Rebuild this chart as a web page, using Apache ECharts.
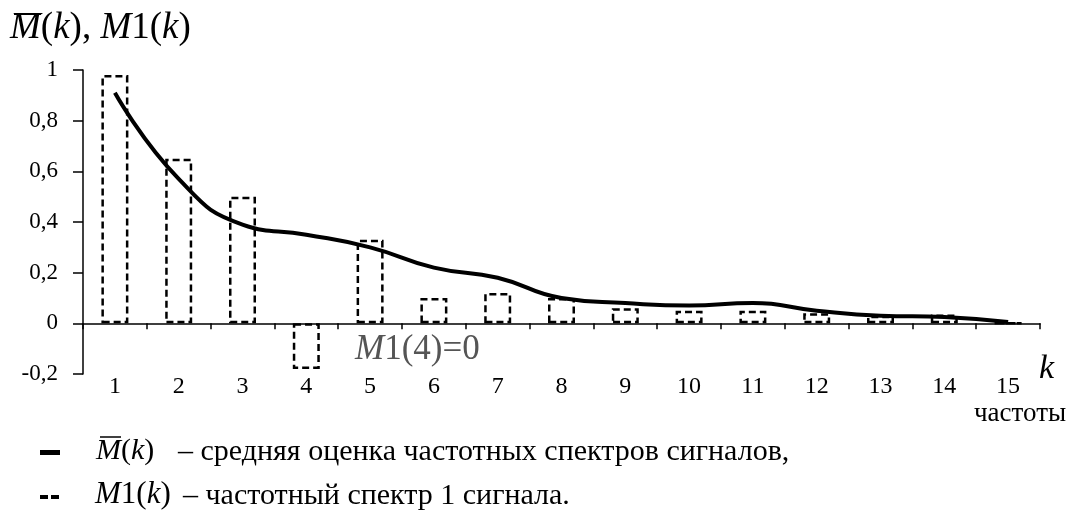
<!DOCTYPE html>
<html>
<head>
<meta charset="utf-8">
<script src="https://cdn.jsdelivr.net/npm/echarts@6/dist/echarts.min.js"></script>
<style>
html,body{margin:0;padding:0;background:#fff;}
#chart{width:1073px;height:517px;}
</style>
</head>
<body>
<div id="chart"></div>
<script>
var categories = ['1','2','3','4','5','6','7','8','9','10','11','12','13','14','15'];
var meanSpectrum = [0.91, 0.57, 0.39, 0.35, 0.30, 0.22, 0.18, 0.10, 0.08, 0.07, 0.08, 0.05, 0.03, 0.025, 0.005];
var signal1Spectrum = [0.98, 0.65, 0.50, -0.18, 0.33, 0.10, 0.12, 0.10, 0.06, 0.05, 0.05, 0.04, 0.03, 0.035, 0];
var yTicks = {min: -0.2, max: 1, interval: 0.2};

var SERIF = 'Liberation Serif';
var chart = echarts.init(document.getElementById('chart'), null, {renderer: 'canvas'});

function richItalic(size, color) {
  return {fontStyle: 'italic', fontFamily: SERIF, fontSize: size, fill: color || '#000'};
}
function richUp(size, color) {
  return {fontFamily: SERIF, fontSize: size, fill: color || '#000'};
}

var option = {
  backgroundColor: '#fff',
  animation: false,
  grid: {left: 83, right: 33, top: 70, bottom: 143, containLabel: false},
  xAxis: {
    type: 'category',
    data: categories,
    boundaryGap: true,
    axisLine: {onZero: true, lineStyle: {color: '#000', width: 1.5}},
    axisTick: {show: true, length: 6, lineStyle: {color: '#000', width: 1.5}},
    axisLabel: {margin: 1, color: '#000', fontFamily: SERIF, fontSize: 24},
    splitLine: {show: false}
  },
  yAxis: {
    type: 'value',
    min: yTicks.min,
    max: yTicks.max,
    interval: yTicks.interval,
    axisLine: {show: true, lineStyle: {color: '#000', width: 1.5}},
    axisTick: {show: true, length: 10, lineStyle: {color: '#000', width: 1.5}},
    axisLabel: {
      margin: 25, color: '#000', fontFamily: SERIF, fontSize: 23,
      formatter: function (v) {
        var r = Math.round(v * 10) / 10;
        if (Math.abs(r) < 1e-9) r = 0;
        return String(r).replace('.', ',');
      }
    },
    splitLine: {show: false}
  },
  series: [
    {
      name: 'M1(k)',
      type: 'bar',
      data: signal1Spectrum,
      barWidth: 27,
      itemStyle: {
        color: 'rgba(0,0,0,0)',
        borderColor: '#000',
        borderWidth: 2.5,
        borderType: [7, 4]
      },
      z: 2
    },
    {
      name: 'mean M(k)',
      type: 'line',
      data: meanSpectrum,
      smooth: true,
      symbol: 'none',
      lineStyle: {color: '#000', width: 4},
      z: 3
    }
  ],
  graphic: [
    {
      type: 'text', left: 10, top: 10,
      style: {
        text: '{i|M}{r|(}{i|k}{r|), }{i|M}{r|1(}{i|k}{r|)}',
        rich: {i: richItalic(37), r: richUp(37)}
      }
    },
    {type: 'line', shape: {x1: 14, y1: 14, x2: 41, y2: 14}, style: {stroke: '#000', lineWidth: 2}},
    {
      type: 'text', left: 355, top: 332,
      style: {
        text: '{i|M}{r|1(4)=0}',
        rich: {i: richItalic(35, '#555'), r: richUp(35, '#555')}
      }
    },
    {
      type: 'text', left: 1039, top: 352,
      style: {text: 'k', fontStyle: 'italic', fontFamily: SERIF, fontSize: 34, fill: '#000'}
    },
    {
      type: 'text', left: 974, top: 400,
      style: {text: 'частоты', fontFamily: SERIF, fontSize: 27, fill: '#000'}
    },
    {type: 'rect', shape: {x: 40, y: 450, width: 20, height: 5}, style: {fill: '#000'}},
    {
      type: 'text', left: 96, top: 436,
      style: {
        text: '{i|M}{r|(}{i|k}{r|)}',
        rich: {i: richItalic(30), r: richUp(30)}
      }
    },
    {type: 'line', shape: {x1: 100, y1: 437, x2: 121, y2: 437}, style: {stroke: '#000', lineWidth: 1.5}},
    {
      type: 'text', left: 178, top: 437,
      style: {text: '– средняя оценка частотных спектров сигналов,', fontFamily: SERIF, fontSize: 30, fill: '#000'}
    },
    {type: 'rect', shape: {x: 40, y: 495, width: 8, height: 4}, style: {fill: '#000'}},
    {type: 'rect', shape: {x: 51, y: 495, width: 8, height: 4}, style: {fill: '#000'}},
    {
      type: 'text', left: 95, top: 479,
      style: {
        text: '{i|M}{r|1(}{i|k}{r|)}',
        rich: {i: richItalic(31), r: richUp(31)}
      }
    },
    {
      type: 'text', left: 183, top: 481,
      style: {text: '– частотный спектр 1 сигнала.', fontFamily: SERIF, fontSize: 30, fill: '#000'}
    }
  ]
};
chart.setOption(option);
</script>
</body>
</html>
